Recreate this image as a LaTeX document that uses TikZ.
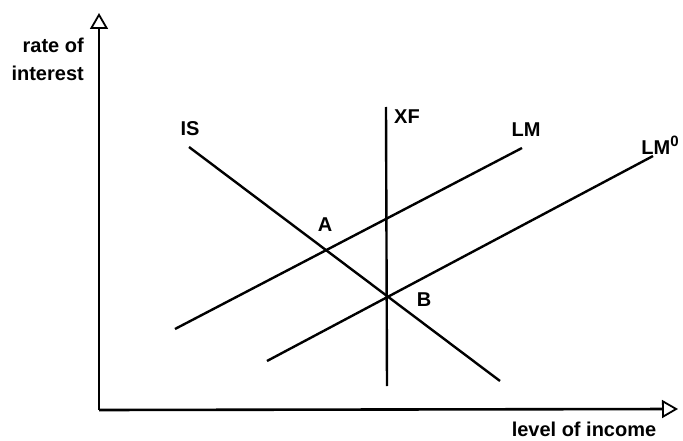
\documentclass[tikz,border=0pt]{standalone}
\usepackage{fontspec}
\setmainfont{Liberation Sans}
\usetikzlibrary{arrows.meta}
\begin{document}
\begin{tikzpicture}[x=1pt,y=-1pt,
  axisline/.style={line width=2.6pt,-{Triangle[open,length=16pt,width=18pt,line width=1.8pt]}},
  curve/.style={line width=2.4pt},
  lbl/.style={inner sep=0pt,font=\fontsize{20}{23}\selectfont\bfseries}]
\useasboundingbox (0,0) rectangle (683,441);
% axes
\coordinate (O) at (99,410);
\coordinate (ytip) at (99,13);
\coordinate (xtip) at (678,409);
\draw[axisline] (O) -- (ytip);
\draw[axisline] (O) -- (xtip);
% curve end points
\coordinate (is1) at (189,147);
\coordinate (is2) at (500,381);
\coordinate (lm1) at (175,329);
\coordinate (lm2) at (522,148);
\coordinate (lz1) at (267,361);
\coordinate (lz2) at (653,156);
\coordinate (xf1) at (386,107);
\coordinate (xf2) at (387,386);
\draw[curve] (is1) -- (is2);
\draw[curve] (lm1) -- (lm2);
\draw[curve] (lz1) -- (lz2);
\draw[curve] (xf1) -- (xf2);
% labels
\node[lbl,anchor=east] (ra) at (84,45) {rate of};
\node[lbl,anchor=east] (in) at (84,73) {interest};
\node[lbl] (lv) at (584,429) {level of income};
\node[lbl] (IS) at (190,129) {IS};
\node[lbl] (XF) at (407,117) {XF};
\node[lbl] (LM) at (526,130) {LM};
\node[lbl] (LZ) at (660,145) {LM\raisebox{0.42em}{\fontsize{15}{15}\selectfont 0}};
\node[lbl] (A) at (325,225) {A};
\node[lbl] (B) at (424,300) {B};
\end{tikzpicture}
\end{document}
